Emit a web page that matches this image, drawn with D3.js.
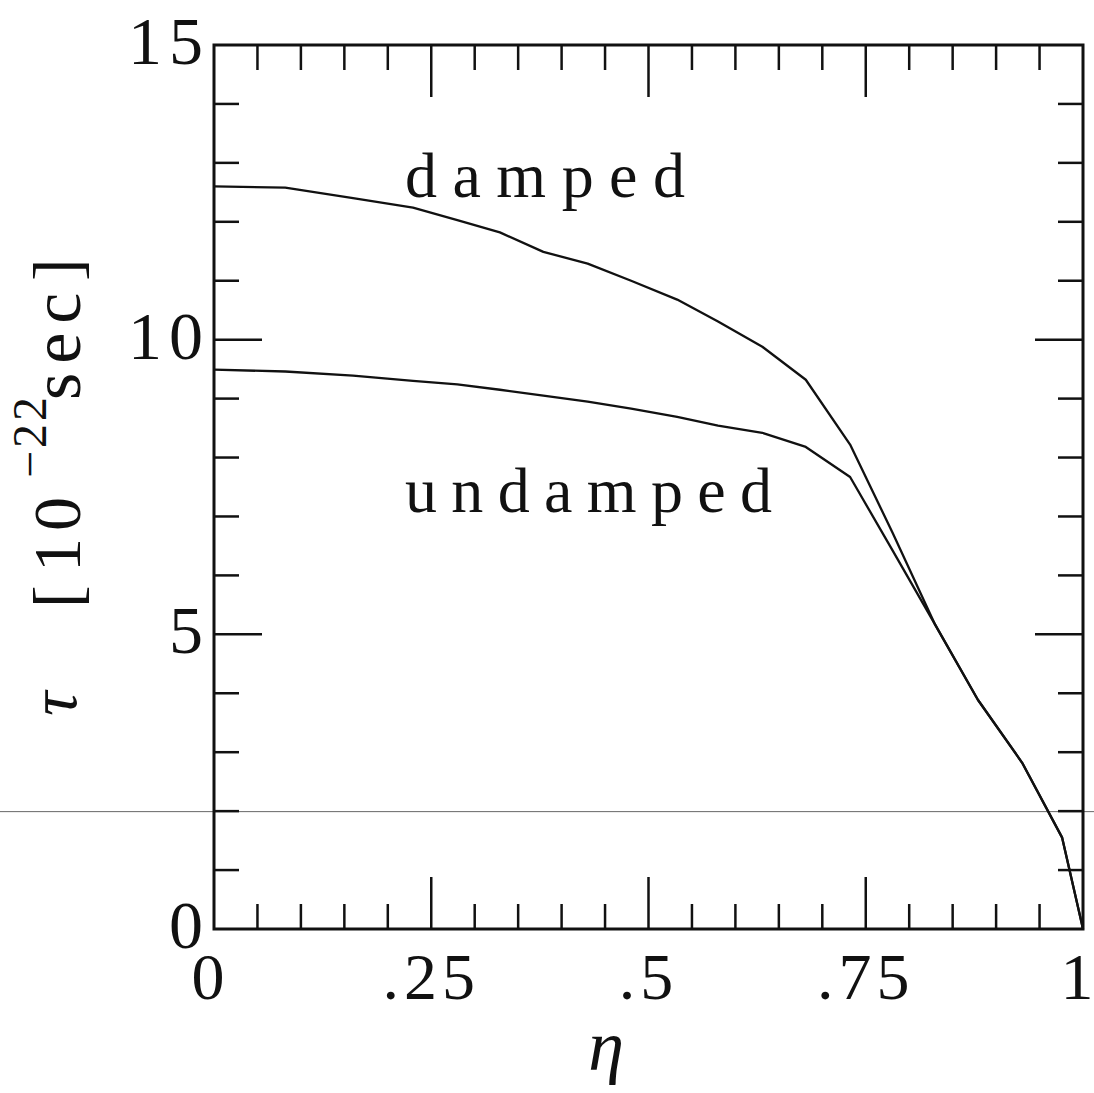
<!DOCTYPE html>
<html>
<head>
<meta charset="utf-8">
<script src="https://cdn.jsdelivr.net/npm/d3@7"></script>
<style>
  body { margin: 0; background: #fff; }
  text { font-family: "Liberation Serif", "DejaVu Serif", serif; fill: #111; }
</style>
</head>
<body>
<svg id="chart" width="1094" height="1093"></svg>
<script>
// eta values where the curves have vertices
const eta = [0, 0.082, 0.16, 0.229, 0.28, 0.329, 0.379, 0.43, 0.48, 0.533, 0.58, 0.631, 0.681, 0.732, 0.781, 0.83, 0.879, 0.93, 0.976, 1]
const damped = [12.6, 12.58, 12.4, 12.24, 12.03, 11.82, 11.49, 11.29, 11.0, 10.68, 10.31, 9.88, 9.32, 8.22, 6.72, 5.16, 3.89, 2.82, 1.55, 0]
const undamped = [9.49, 9.46, 9.39, 9.3, 9.24, 9.15, 9.05, 8.95, 8.83, 8.69, 8.54, 8.42, 8.18, 7.67, 6.42, 5.16, 3.89, 2.82, 1.55, 0]

const xTickLabels = [[0, '0'], [0.25, '.25'], [0.5, '.5'], [0.75, '.75'], [1, '1']]
const yTickLabels = [[0, '0'], [5, '5'], [10, '10'], [15, '15']]

const plotL = 214, plotR = 1083, plotT = 45, plotB = 929

const x = d3.scaleLinear().domain([0, 1]).range([plotL, plotR])
const y = d3.scaleLinear().domain([0, 15]).range([plotB, plotT])

const svg = d3.select('#chart')

// thin scan line across the page
svg.append('line')
  .attr('x1', 0).attr('x2', 1094)
  .attr('y1', y(2) + 0.5).attr('y2', y(2) + 0.5)
  .attr('stroke', '#666').attr('stroke-width', 1)

// frame
svg.append('rect')
  .attr('x', plotL).attr('y', plotT)
  .attr('width', plotR - plotL).attr('height', plotB - plotT)
  .attr('fill', 'none').attr('stroke', '#111').attr('stroke-width', 3)

const ticks = svg.append('g').attr('stroke', '#111').attr('stroke-width', 2.5)

// x ticks every .05, long at .25
d3.range(1, 20).forEach(i => {
  const v = i * 0.05
  const len = i % 5 === 0 ? 52 : 25
  ticks.append('line').attr('x1', x(v)).attr('x2', x(v)).attr('y1', plotB).attr('y2', plotB - len)
  ticks.append('line').attr('x1', x(v)).attr('x2', x(v)).attr('y1', plotT).attr('y2', plotT + len)
})

// y ticks every 1, long at 5
d3.range(1, 15).forEach(v => {
  const len = v % 5 === 0 ? 48 : 25
  ticks.append('line').attr('y1', y(v)).attr('y2', y(v)).attr('x1', plotL).attr('x2', plotL + len)
  ticks.append('line').attr('y1', y(v)).attr('y2', y(v)).attr('x1', plotR).attr('x2', plotR - len)
})

// tick labels
svg.selectAll('.xl').data(xTickLabels).enter().append('text')
  .attr('x', d => x(d[0]) + (d[0] === 0 ? -6 : d[0] === 1 ? -6 : 0))
  .attr('y', 999)
  .attr('text-anchor', 'middle')
  .attr('font-size', 66)
  .attr('letter-spacing', d => d[1].length > 1 ? 5 : 0)
  .text(d => d[1])

svg.selectAll('.yl').data(yTickLabels).enter().append('text')
  .attr('x', 210)
  .attr('y', d => y(d[0]) + 19)
  .attr('text-anchor', 'end')
  .attr('font-size', 68)
  .attr('letter-spacing', 7)
  .text(d => d[1])

// curves
const line = d3.line().x(d => x(d[0])).y(d => y(d[1]))
const series = [damped, undamped]
series.forEach(s => {
  svg.append('path')
    .attr('d', line(eta.map((e, i) => [e, s[i]])))
    .attr('fill', 'none').attr('stroke', '#111').attr('stroke-width', 2.3)
    .attr('stroke-linejoin', 'round')
})

// curve labels
svg.append('text').attr('x', 405).attr('y', 197).attr('font-size', 64)
  .attr('textLength', 280).attr('lengthAdjust', 'spacing').text('damped')
svg.append('text').attr('x', 405).attr('y', 512).attr('font-size', 64)
  .attr('textLength', 367).attr('lengthAdjust', 'spacing').text('undamped')

// x axis title
svg.append('text').attr('x', 606).attr('y', 1070).attr('text-anchor', 'middle')
  .attr('font-size', 72).attr('font-style', 'italic').text('η')

// y axis title, rotated
const yt = svg.append('g').attr('transform', 'rotate(-90)')
yt.append('text').attr('x', -716).attr('y', 76).attr('font-size', 68).attr('font-style', 'italic').text('τ')
yt.append('text').attr('x', -608).attr('y', 80).attr('font-size', 68).text('[')
yt.append('text').attr('x', -572).attr('y', 80).attr('font-size', 68).attr('letter-spacing', 7).text('10')
yt.append('text').attr('x', -478).attr('y', 46).attr('font-size', 48).attr('letter-spacing', 3).text('−22')
yt.append('text').attr('x', -400).attr('y', 80).attr('font-size', 70).attr('letter-spacing', 9).text('sec')
yt.append('text').attr('x', -281).attr('y', 80).attr('font-size', 68).text(']')
</script>
</body>
</html>
